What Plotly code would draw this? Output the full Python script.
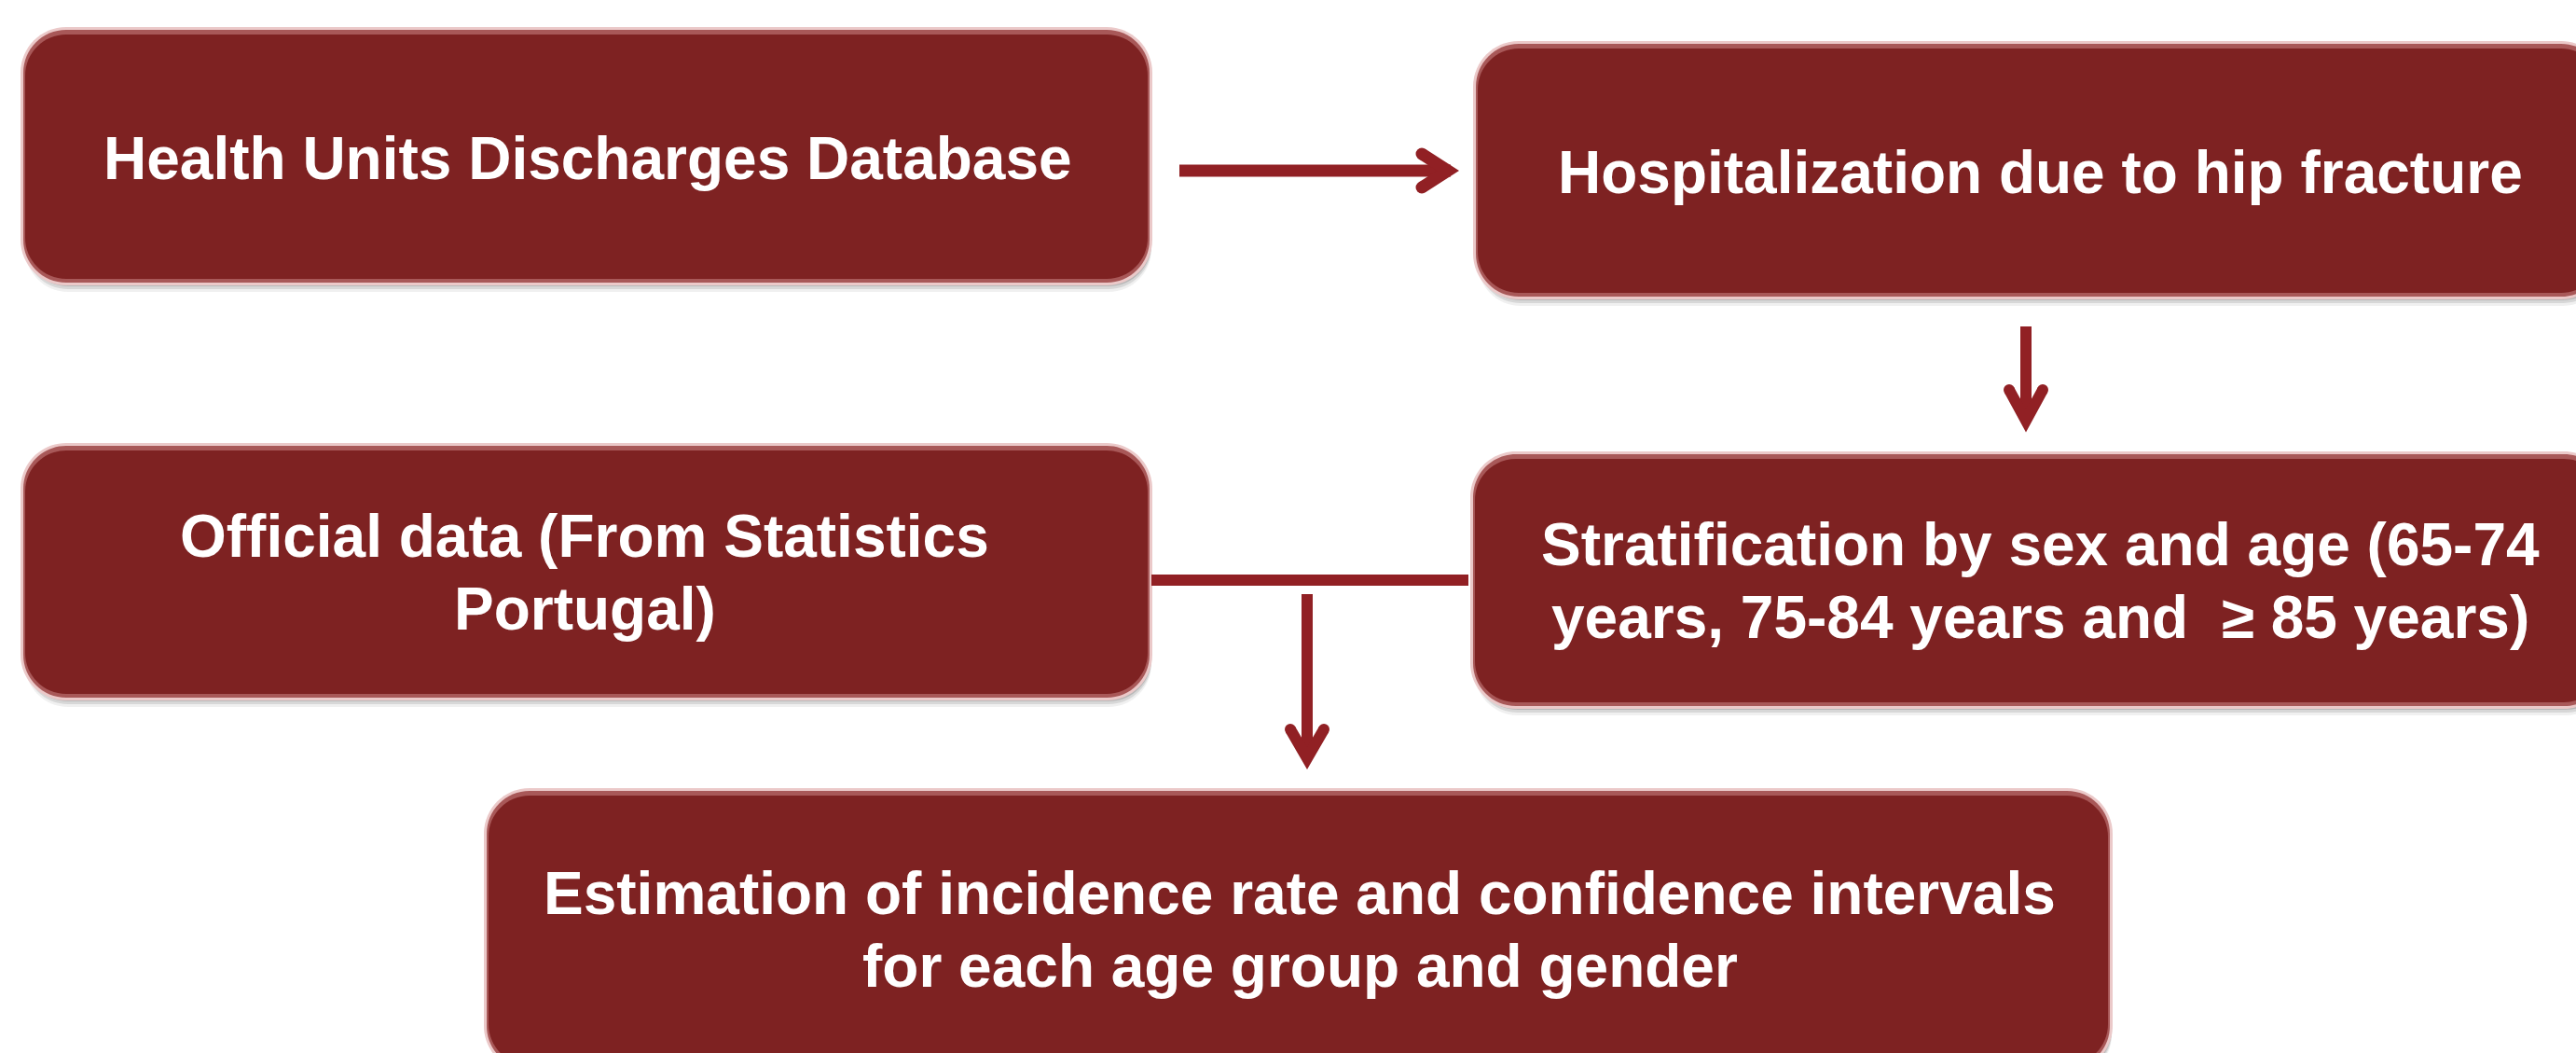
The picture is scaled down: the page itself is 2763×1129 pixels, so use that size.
import plotly.graph_objects as go

# ---- content ----
step_names = ["discharges", "hospitalization", "official", "stratification", "estimation"]
step_lines = [
    ["Health Units Discharges Database"],
    ["Hospitalization due to hip fracture"],
    ["Official data (From Statistics", "Portugal)"],
    ["Stratification by sex and age (65-74", "years, 75-84 years and\u00a0 \u2265 85 years)"],
    ["Estimation of incidence rate and confidence intervals", "for each age group and gender"],
]

# ---- layout geometry (pixels on a 2763 x 1129 canvas) ----
W, H = 2763, 1129
box_geom = {  # x0, y0, x1, y1
    "discharges": (25, 32, 1233, 303),
    "hospitalization": (1583, 47, 2793, 318),
    "official": (25, 478, 1233, 748),
    "stratification": (1580, 487, 2796, 757),
    "estimation": (522, 848, 2263, 1146),
}
text_x = {"discharges": 630, "hospitalization": 2188, "official": 627,
          "stratification": 2188, "estimation": 1394}
text_y = {"discharges": [170], "hospitalization": [185], "official": [575, 653],
          "stratification": [584, 662], "estimation": [958, 1036]}
RADIUS = 46
BOX_COLOR = "#7E2222"
ARROW_COLOR = "#912024"
FONT_SIZE = 64

shapes = []
annotations = []


def rrect(x0, y0, x1, y1, r):
    k = 0.5523 * r
    return (f"M{x0 + r},{y0} L{x1 - r},{y0} "
            f"C{x1 - r + k},{y0} {x1},{y0 + r - k} {x1},{y0 + r} "
            f"L{x1},{y1 - r} "
            f"C{x1},{y1 - r + k} {x1 - r + k},{y1} {x1 - r},{y1} "
            f"L{x0 + r},{y1} "
            f"C{x0 + r - k},{y1} {x0},{y1 - r + k} {x0},{y1 - r} "
            f"L{x0},{y0 + r} "
            f"C{x0},{y0 + r - k} {x0 + r - k},{y0} {x0 + r},{y0} Z")


for name in step_names:
    x0, y0, x1, y1 = box_geom[name]
    # soft drop shadow
    for off, op in [(10, 0.06), (7, 0.10), (4, 0.14)]:
        shapes.append(dict(type="path", path=rrect(x0 + 2, y0 + off, x1 + 2, y1 + off, RADIUS),
                           fillcolor=f"rgba(0,0,0,{op})", line=dict(width=0), layer="below"))
    # light bevel outline
    shapes.append(dict(type="path", path=rrect(x0 - 3, y0 - 3, x1 + 3, y1 + 3, RADIUS + 3),
                       fillcolor="#EBC9C9", line=dict(width=0), layer="below"))
    shapes.append(dict(type="path", path=rrect(x0, y0, x1, y1, RADIUS),
                       fillcolor="#A85858", line=dict(width=0), layer="below"))
    shapes.append(dict(type="path", path=rrect(x0 + 2, y0 + 5, x1 - 2, y1 - 4, RADIUS - 2),
                       fillcolor=BOX_COLOR, line=dict(width=0), layer="below"))
    for line_text, ty in zip(step_lines[step_names.index(name)], text_y[name]):
        annotations.append(dict(x=text_x[name], y=ty, xref="x", yref="y", text=line_text,
                                showarrow=False, xanchor="center", yanchor="middle",
                                font=dict(family="Liberation Sans, Arial, sans-serif",
                                          size=FONT_SIZE, color="white", weight="bold")))


# ---- connectors ----
def bar(x0, y0, x1, y1, w):
    shapes.append(dict(type="line", x0=x0, y0=y0, x1=x1, y1=y1,
                       line=dict(color=ARROW_COLOR, width=w), layer="above"))


def chevron(p1, v, p2, w):
    shapes.append(dict(type="path",
                       path=f"M{p1[0]},{p1[1]} L{v[0]},{v[1]} L{p2[0]},{p2[1]}",
                       line=dict(color=ARROW_COLOR, width=w), layer="above"))
    for p in (p1, p2):
        shapes.append(dict(type="circle", x0=p[0] - w / 2, x1=p[0] + w / 2,
                           y0=p[1] - w / 2, y1=p[1] + w / 2,
                           fillcolor=ARROW_COLOR, line=dict(width=0), layer="above"))


# right arrow: discharges -> hospitalization
bar(1265, 183, 1556, 183, 13)
chevron((1525, 165), (1553, 183), (1525, 201), 13)
# down arrow: hospitalization -> stratification
bar(2173, 350, 2173, 450, 12)
chevron((2155, 418), (2173, 451), (2191, 418), 12)
# joining line: official data + stratification
bar(1235, 622, 1575, 622, 12)
# down arrow to estimation
bar(1402, 637, 1402, 812, 12)
chevron((1384, 782), (1402, 813), (1420, 782), 12)

fig = go.Figure()
fig.add_trace(go.Scatter(x=[0, W], y=[0, H], mode="markers",
                         marker=dict(opacity=0), hoverinfo="skip", showlegend=False))
fig.update_layout(
    width=W, height=H,
    margin=dict(l=0, r=0, t=0, b=0),
    paper_bgcolor="white", plot_bgcolor="white",
    xaxis=dict(range=[0, W], visible=False, fixedrange=True),
    yaxis=dict(range=[H, 0], visible=False, fixedrange=True),
    shapes=shapes, annotations=annotations, showlegend=False,
)
fig.write_html("out.html", config={"displayModeBar": False},
               post_script="document.body.style.margin='0';document.body.style.overflow='hidden';")
